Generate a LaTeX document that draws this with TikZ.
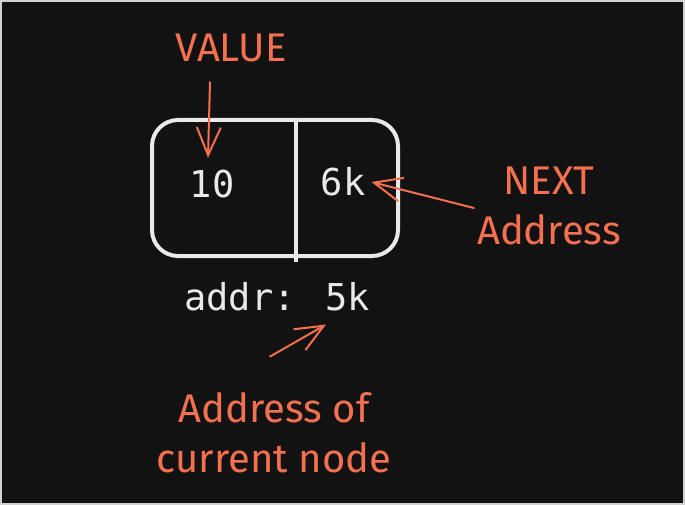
\documentclass[tikz,border=0pt]{standalone}
\usepackage{fontspec}
\usetikzlibrary{arrows.meta}
\newfontfamily\handfont{Fira Sans}
\newfontfamily\codefont{DejaVu Sans Mono}
\definecolor{bgdark}{HTML}{121212}
\definecolor{sketchline}{HTML}{E9E9E9}
\definecolor{notecolor}{HTML}{F4704F}

\begin{document}
\begin{tikzpicture}[x=1pt,y=-1pt,
	note/.style={text=notecolor, font=\handfont\fontsize{40}{50}\selectfont, align=center, inner sep=0pt},
	code/.style={text=sketchline, font=\codefont\fontsize{37}{40}\selectfont, inner sep=0pt},
	pointer/.style={draw=notecolor, line width=2pt, line cap=round, -{Straight Barb[length=28pt,width=24pt]}},
	cellbox/.style={draw=sketchline, line width=4pt, rounded corners=26pt, minimum width=246pt, minimum height=136pt}]
\useasboundingbox (0,0) rectangle (685,505);
\fill[bgdark] (0,0) rectangle (685,505);
\draw[gray!35, line width=2pt] (1,1) rectangle (684,504); % frame

% the list node
\node[cellbox] (listnode) at (275,188) {};
\draw[sketchline, line width=4pt] ([xshift=21pt]listnode.north) -- ([xshift=21pt,yshift=-4pt]listnode.south); % divider
\node[code] (ten) at (212,184) {10};
\node[code] (sixk) at (343,182) {6k};
\node[code] (addr) at (277,297) {addr: 5k};

% notes
\node[note] (value) at (231,48) {VALUE};
\node[note] (next) at (549,206) {NEXT\\Address};
\node[note] (current) at (274,433) {Address of\\current node};

\draw[pointer] ([xshift=-21pt,yshift=-20pt]value.south) -- ([xshift=-4pt,yshift=12pt]ten.north);
\draw[pointer] ([xshift=-3pt,yshift=-2pt]next.west) -- ([xshift=6pt]sixk.east);
\draw[pointer] ([xshift=-4pt,yshift=36pt]current.north) -- ([xshift=49pt,yshift=-13pt]addr.south);
\end{tikzpicture}
\end{document}
